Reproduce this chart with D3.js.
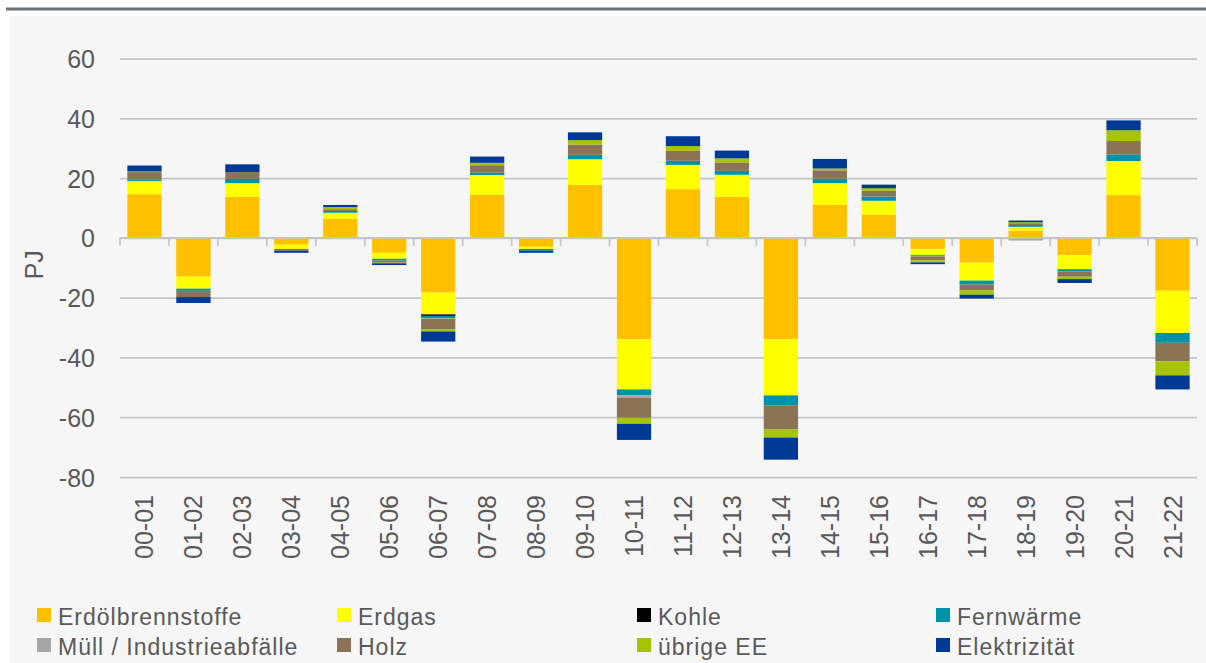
<!DOCTYPE html>
<html lang="en">
    <head>
        <meta charset="utf-8">
        <title>Energieverbrauch Veränderung</title>
        <script src="https://d3js.org/d3.v7.min.js"></script>
        <style type="text/css">
            body { margin: 0; background: #ffffff; }
            text { font-family: "Liberation Sans", Arial, sans-serif; fill: #595959; }
        </style>
    </head>
    <body>
        <script type="text/javascript">

            //1. consts
            const svgWidth = 1206;
            const svgHeight = 663;
            const plotLeft = 120;
            const plotRight = 1197;
            const plotTop = 58.5;
            const plotBottom = 477;

            //2. data
            const years = ["00-01", "01-02", "02-03", "03-04", "04-05", "05-06", "06-07", "07-08", "08-09", "09-10", "10-11",
                           "11-12", "12-13", "13-14", "14-15", "15-16", "16-17", "17-18", "18-19", "19-20", "20-21", "21-22"];
            const seriesNames = ["Erdölbrennstoffe", "Erdgas", "Kohle", "Fernwärme", "Müll / Industrieabfälle", "Holz", "übrige EE", "Elektrizität"];
            const seriesColors = ["#ffc000", "#ffff00", "#000000", "#0093a8", "#a6a6a6", "#8b7356", "#a6c400", "#003a96"];

            const erdoel    = [14.6, -13, 13.7, -2.3, 6.4, -5, -18.3, 14.4, -3, 17.7, -33.9, 16.3, 13.7, -33.9, 11, 7.7, -3.7, -8.3, 2.4, -5.8, 14.3, -17.7];
            const erdgas    = [4.4, -4, 4.6, -1.4, 2, -2, -7.3, 6.6, -0.7, 8.6, -16.8, 8.1, 7.4, -18.8, 7.3, 4.7, -2, -6, 1.3, -4.7, 11.4, -14.1];
            const kohle     = [0, 0, 0, 0, 0, 0, -0.5, 0, 0, 0, 0, 0, 0, 0, 0, 0, 0, 0, 0, 0, 0, 0];
            const fernwaerme= [0.5, -0.7, 1.4, 0, 0.6, -0.6, -0.8, 0.8, -0.6, 1.5, -2, 1.4, 1.3, -3.3, 1.5, 1.4, -0.3, -1.3, 0.6, -0.7, 2.2, -3.3];
            const muell     = [0, 0, 0, 0, 0, 0, -0.2, 0, 0, 0, -0.8, 0, 0, 0, 0, 0, -0.2, 0, -0.9, 0, 0, 0];
            const holz      = [2.5, -2.1, 2.3, -0.6, 0.6, -0.7, -3.4, 2.5, 0, 3.4, -6.7, 3.3, 2.8, -8.1, 2.8, 2, -1.3, -2, 0.6, -1.8, 4.5, -6.2];
            const uebrigeEE = [0.2, 0, 0, 0, 0.7, -0.2, -0.8, 0.8, 0, 1.5, -2, 1.6, 1.4, -2.7, 0.6, 0.8, -0.7, -1.4, 0.3, -0.8, 3.6, -4.7];
            const elektr    = [2, -2, 2.6, -0.7, 0.7, -0.6, -3.4, 2.1, -0.7, 2.6, -5.4, 3.3, 2.6, -7.4, 3.2, 1.2, -0.6, -1.3, 0.6, -1.3, 3.3, -4.7];

            const yTicks = [60, 40, 20, 0, -20, -40, -60, -80];

            const seriesValues = [erdoel, erdgas, kohle, fernwaerme, muell, holz, uebrigeEE, elektr];

            //3. table for d3.stack
            const table = years.map((y, i) => {
                const row = {year: y};
                seriesNames.forEach((s, j) => { row[s] = seriesValues[j][i]; });
                return row;
            });

            const stacked = d3.stack()
                            .keys(seriesNames)
                            .order(d3.stackOrderNone)
                            .offset(d3.stackOffsetDiverging)(table);

            //4. scales
            const xScale = d3.scaleBand()
                            .domain(years)
                            .range([plotLeft, plotRight])
                            .paddingInner(0.3)
                            .paddingOuter(0.15);

            const yScale = d3.scaleLinear()
                            .domain([-80, 60])
                            .range([plotBottom, plotTop]);

            //5. svg
            const svg = d3.select("body")
                        .append("svg")
                        .attr("width", svgWidth)
                        .attr("height", svgHeight);

            // panel + top rule
            svg.append("rect")
                .attr("x", 10).attr("y", 16)
                .attr("width", svgWidth - 10).attr("height", svgHeight - 16)
                .attr("fill", "#f6f6f6");

            svg.append("line")
                .attr("x1", 6).attr("x2", svgWidth)
                .attr("y1", 9).attr("y2", 9)
                .attr("stroke", "#6b7075")
                .attr("stroke-width", 3);

            // gridlines + y labels (hyphen minus like the original)
            const leftAxis = d3.axisLeft(yScale)
                            .tickValues(yTicks)
                            .tickSize(-(plotRight - plotLeft))
                            .tickPadding(25)
                            .tickFormat(d => String(d));

            const gy = svg.append("g")
                .attr("transform", "translate(" + plotLeft + ",0)")
                .call(leftAxis);
            gy.select(".domain").remove();
            gy.selectAll(".tick line")
                .attr("stroke", "#c3c6c9")
                .attr("stroke-width", 1.75);
            gy.selectAll(".tick text")
                .attr("font-size", "25px")
                .attr("fill", "#595959")
                .attr("dy", "0.36em");

            // y title
            svg.append("text")
                .attr("transform", "translate(43," + ((plotTop + plotBottom) / 2 - 3) + ") rotate(-90)")
                .attr("text-anchor", "middle")
                .attr("font-size", "25px")
                .text("PJ");

            // bars
            svg.append("g")
                .selectAll("g")
                .data(stacked)
                .enter()
                .append("g")
                .attr("fill", (d, i) => seriesColors[i])
                .selectAll("rect")
                .data(d => d)
                .enter()
                .append("rect")
                .attr("x", d => xScale(d.data.year))
                .attr("width", xScale.bandwidth())
                .attr("y", d => yScale(Math.max(d[0], d[1])))
                .attr("height", d => Math.abs(yScale(d[0]) - yScale(d[1])));

            // zero line with category tick marks
            const y0 = yScale(0);
            const step = xScale.step();
            const boundaries = d3.range(years.length + 1).map(i => plotLeft + i * step);
            svg.append("line")
                .attr("x1", plotLeft).attr("x2", plotRight)
                .attr("y1", y0).attr("y2", y0)
                .attr("stroke", "#c3c6c9").attr("stroke-width", 1.75);
            svg.selectAll(".catTick")
                .data(boundaries)
                .enter()
                .append("line")
                .attr("class", "catTick")
                .attr("x1", d => d).attr("x2", d => d)
                .attr("y1", y0).attr("y2", y0 + 8)
                .attr("stroke", "#c3c6c9").attr("stroke-width", 1.75);

            // x labels
            svg.selectAll(".xlab")
                .data(years)
                .enter()
                .append("text")
                .attr("class", "xlab")
                .attr("transform", d => "translate(" + (xScale(d) + xScale.bandwidth() / 2 + 9) + ",495) rotate(-90)")
                .attr("text-anchor", "end")
                .attr("font-size", "25px")
                .text(d => d);

            // legend
            const legendCols = [37, 337, 637, 936];
            const legendRows = [608, 638];
            const legend = svg.selectAll(".leg")
                .data(seriesNames)
                .enter()
                .append("g")
                .attr("class", "leg")
                .attr("transform", (d, i) => "translate(" + legendCols[i % 4] + "," + legendRows[Math.floor(i / 4)] + ")");
            legend.append("rect")
                .attr("width", 14).attr("height", 14)
                .attr("fill", (d, i) => seriesColors[i]);
            legend.append("text")
                .attr("x", 21).attr("y", 17)
                .attr("font-size", "23px")
                .attr("letter-spacing", "1px")
                .text(d => d);

        </script>
    </body>
</html>
